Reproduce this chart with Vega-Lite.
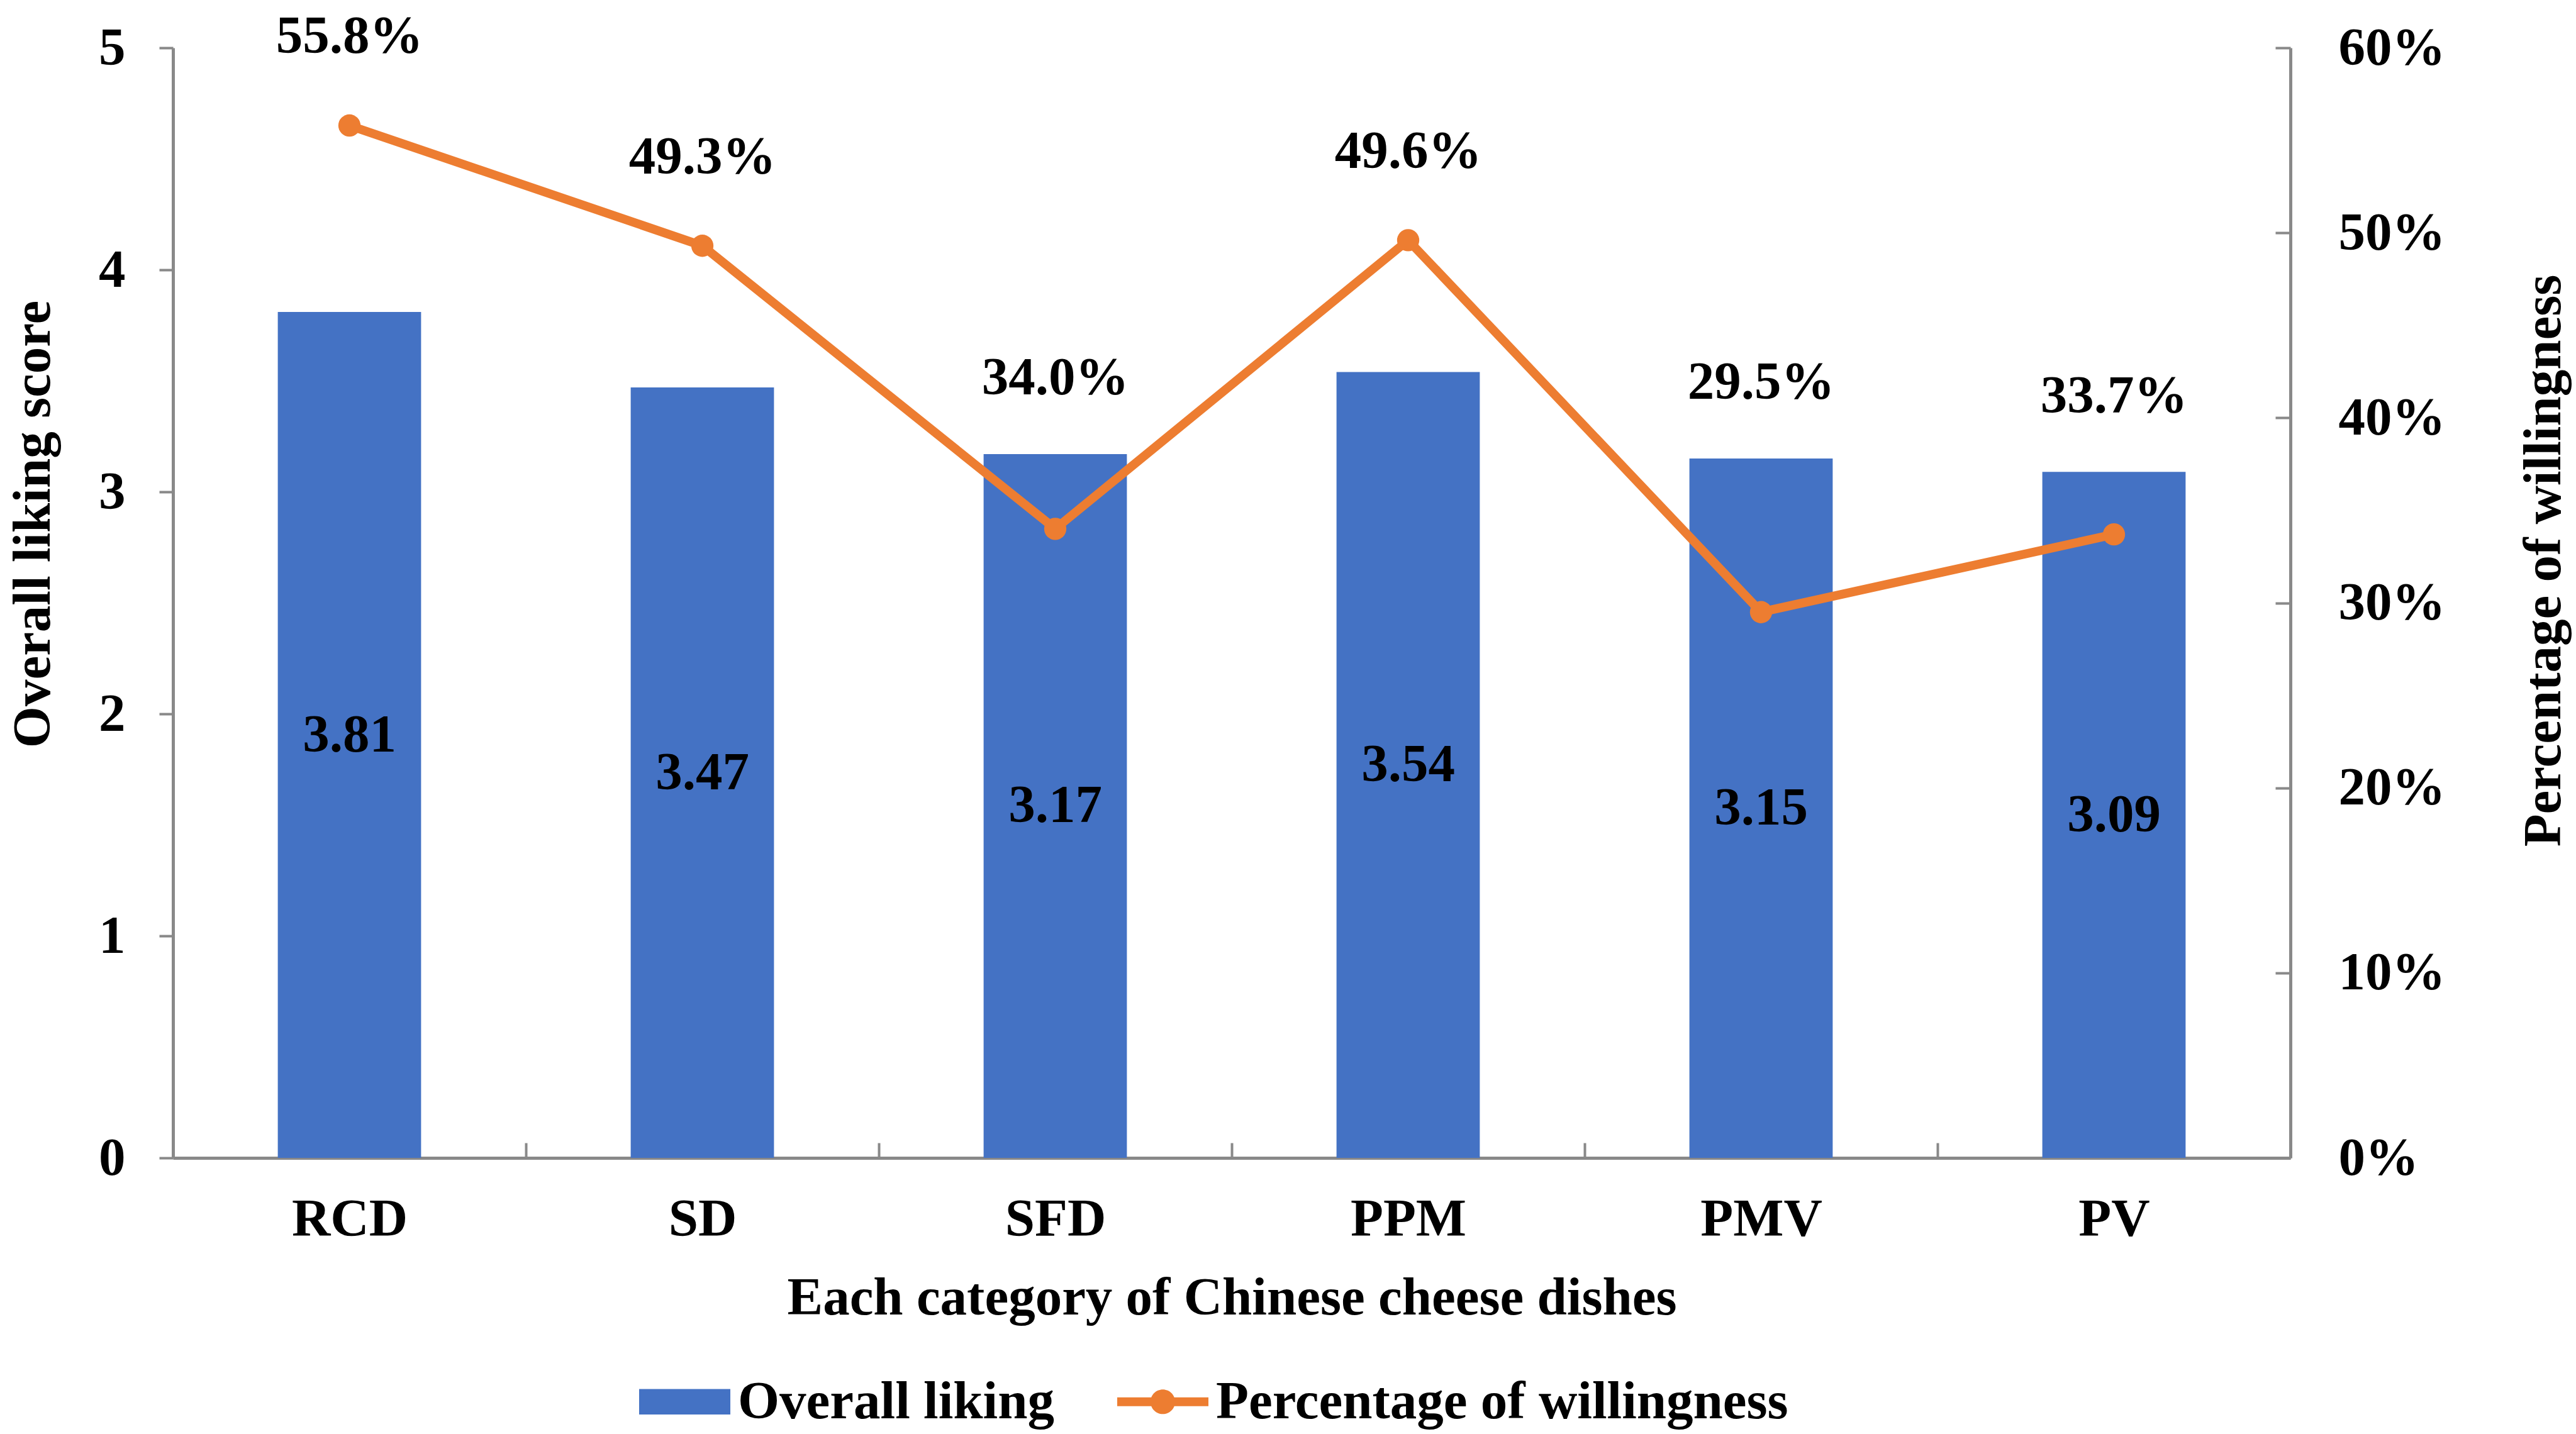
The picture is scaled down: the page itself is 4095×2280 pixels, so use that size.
{
  "$schema": "https://vega.github.io/schema/vega-lite/v6.json",
  "width": 3366,
  "height": 1765,
  "autosize": {"type": "none"},
  "padding": {"left": 275, "top": 76, "right": 454, "bottom": 439},
  "background": "white",
  "config": {
    "view": {"stroke": null},
    "font": "Liberation Serif",
    "axis": {
      "grid": false,
      "domainColor": "#898989",
      "domainWidth": 5,
      "tickColor": "#898989",
      "tickWidth": 4,
      "labelFont": "Liberation Serif",
      "labelFontSize": 85,
      "labelFontWeight": "bold",
      "labelColor": "#000000",
      "labelLimit": 1000,
      "titleFont": "Liberation Serif",
      "titleFontSize": 85,
      "titleFontWeight": "bold",
      "titleColor": "#000000"
    }
  },
  "data": {
    "values": [
      {"dish": "RCD", "liking": 3.81, "willing": 0.558},
      {"dish": "SD", "liking": 3.47, "willing": 0.493},
      {"dish": "SFD", "liking": 3.17, "willing": 0.340},
      {"dish": "PPM", "liking": 3.54, "willing": 0.496},
      {"dish": "PMV", "liking": 3.15, "willing": 0.295},
      {"dish": "PV", "liking": 3.09, "willing": 0.337}
    ]
  },
  "encoding": {
    "x": {
      "field": "dish",
      "type": "nominal",
      "sort": null,
      "scale": {"paddingInner": 0, "paddingOuter": 0},
      "axis": {
        "title": "Each category of Chinese cheese dishes",
        "labelAngle": 0,
        "tickBand": "extent",
        "tickSize": -24,
        "labelPadding": 121,
        "labelBaseline": "middle",
        "titleY": 222,
        "titleBaseline": "middle"
      }
    }
  },
  "layer": [
    {
      "mark": {"type": "bar", "width": {"band": 0.406}},
      "encoding": {
        "y": {
          "field": "liking",
          "type": "quantitative",
          "scale": {"domain": [0, 5]},
          "axis": {
            "orient": "left",
            "title": "Overall liking score",
            "values": [0, 1, 2, 3, 4, 5],
            "tickSize": 22,
            "labelPadding": 54,
            "titleX": -223,
            "titleY": 757,
            "titleBaseline": "middle",
            "titleAlign": "center"
          }
        },
        "color": {
          "datum": "Overall liking",
          "type": "nominal",
          "scale": {
            "domain": ["Overall liking", "Percentage of willingness"],
            "range": ["#4472C4", "#ED7D31"]
          },
          "legend": {
            "orient": "none",
            "legendX": 741,
            "legendY": 2080,
            "direction": "horizontal",
            "title": null,
            "padding": 0,
            "labelFont": "Liberation Serif",
            "labelFontSize": 85,
            "labelFontWeight": "bold",
            "labelColor": "#000000",
            "labelLimit": 2000,
            "labelOffset": 12,
            "columnPadding": 100,
            "symbolSize": 21025,
            "symbolStrokeWidth": 0,
            "symbolOpacity": 1,
            "encode": {
              "symbols": {
                "update": {
                  "shape": {"signal": "datum.value === 'Overall liking' ? 'M-1,-0.28H1V0.28H-1Z' : 'M-1,-0.095H1V0.095H-1Z M0.27,0A0.27,0.27 0 1,1 -0.27,0A0.27,0.27 0 1,1 0.27,0Z'"},
                  "strokeWidth": {"value": 0}
                }
              }
            }
          }
        }
      }
    },
    {
      "transform": [{"calculate": "datum.liking / 2", "as": "mid"}],
      "mark": {"type": "text", "font": "Liberation Serif", "fontSize": 85, "fontWeight": "bold", "color": "#000000", "baseline": "middle"},
      "encoding": {
        "y": {"field": "mid", "type": "quantitative", "scale": {"domain": [0, 5]}, "axis": null},
        "text": {"field": "liking", "type": "quantitative", "format": ".2f"}
      }
    },
    {
      "mark": {
        "type": "line",
        "color": "#ED7D31",
        "strokeWidth": 14,
        "point": {"filled": true, "size": 1250, "color": "#ED7D31"}
      },
      "encoding": {
        "y": {
          "field": "willing",
          "type": "quantitative",
          "scale": {"domain": [0, 0.6]},
          "axis": {
            "orient": "right",
            "title": "Percentage of willingness",
            "format": ".0%",
            "values": [0, 0.1, 0.2, 0.3, 0.4, 0.5, 0.6],
            "tickSize": -24,
            "labelPadding": 100,
            "titleAngle": 270,
            "titleX": 402,
            "titleY": 815,
            "titleBaseline": "middle",
            "titleAlign": "center"
          }
        }
      }
    },
    {
      "transform": [
        {"calculate": "datum.willing > datum.liking * 0.12 ? datum.willing + 0.048 : datum.liking * 0.12 + 0.041", "as": "labelPos"}
      ],
      "mark": {"type": "text", "font": "Liberation Serif", "fontSize": 85, "fontWeight": "bold", "color": "#000000", "baseline": "middle"},
      "encoding": {
        "y": {"field": "labelPos", "type": "quantitative", "scale": {"domain": [0, 0.6]}, "axis": null},
        "text": {"field": "willing", "type": "quantitative", "format": ".1%"}
      }
    }
  ],
  "resolve": {"scale": {"y": "independent"}}
}
